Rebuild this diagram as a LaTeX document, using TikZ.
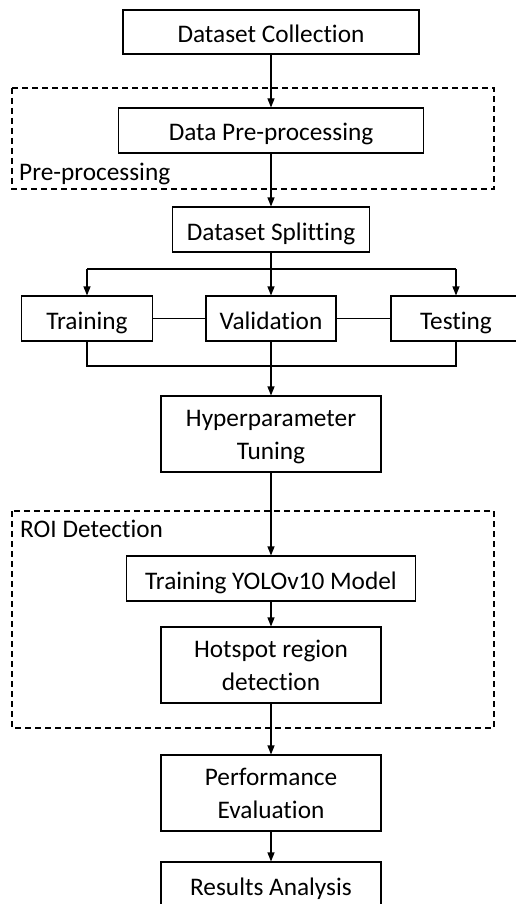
\documentclass[tikz,border=0pt]{standalone}
\usepackage{fontspec}
\setmainfont{Carlito}[Ligatures=NoCommon]
\usetikzlibrary{arrows.meta}
\newcommand{\tst}{\rule[-6pt]{0pt}{30pt}}
\begin{document}
\begin{tikzpicture}[x=1pt,y=-1pt,
  box/.style={draw=black, line width=1.1pt, fill=white, inner sep=0pt, align=center,
    font=\fontsize{25.3}{33}\selectfont},
  one/.style={text height=22pt, text depth=1pt},
  grp/.style={draw=black, line width=1.1pt, dash pattern=on 6pt off 4pt},
  grplabel/.style={inner sep=0pt, anchor=west, text height=17pt, text depth=6pt, font=\fontsize{25.3}{30}\selectfont},
  arr/.style={draw=black, line width=1.1pt, -{Triangle[length=9pt,width=7pt]}},
  ln/.style={draw=black, line width=1.1pt}]
\useasboundingbox (0,0) rectangle (515,904);
% groups
\draw[grp] (12,88) rectangle (494,189);
\node[grplabel] (lpre) at (19,174.5) {Pre-processing};
\draw[grp] (12,511) rectangle (494,728);
\node[grplabel] (lroi) at (20,532) {ROI Detection};
% boxes
\node[box, one, minimum width=296pt, minimum height=44pt] (dc) at (271,32) {Dataset Collection};
\node[box, one, minimum width=305pt, minimum height=45pt] (dp) at (271,130.5) {Data Pre-processing};
\node[box, one, minimum width=197pt, minimum height=45pt] (ds) at (271,229.5) {Dataset Splitting};
\node[box, one, minimum width=131pt, minimum height=45pt] (tr) at (87,318.5) {Training};
\node[box, one, minimum width=130pt, minimum height=45pt] (va) at (271,318.5) {Validation};
\node[box, one, minimum width=130pt, minimum height=45pt] (te) at (456,318.5) {Testing};
\node[box, minimum width=220pt, minimum height=76pt] (hp) at (271,434) {\tst Hyperparameter\\\tst Tuning};
\node[box, one, minimum width=289pt, minimum height=45pt] (yo) at (271,578.5) {Training YOLOv10 Model};
\node[box, minimum width=220pt, minimum height=76pt] (hs) at (271,665) {\tst Hotspot region\\\tst detection};
\node[box, minimum width=220pt, minimum height=76pt] (pe) at (271,793) {\tst Performance\\\tst Evaluation};
\node[box, one, minimum width=220pt, minimum height=45pt] (ra) at (271,884.5) {Results Analysis};
% branch points
\coordinate (bl) at (87,269);
\coordinate (br) at (456,269);
\coordinate (ml) at (87,366);
\coordinate (mr) at (456,366);
% connectors
\draw[arr] (dc.south) -- (dp.north);
\draw[arr] (dp.south) -- (ds.north);
\draw[arr] (ds.south) -- (va.north);
\draw[ln] (bl) -- (br);
\draw[arr] (bl) -- (tr.north);
\draw[arr] (br) -- (te.north);
\draw[ln] (tr.east) -- (va.west);
\draw[ln] (va.east) -- (te.west);
\draw[ln] (tr.south) -- (ml) -- (mr) -- (te.south);
\draw[arr] (va.south) -- (hp.north);
\draw[arr] (hp.south) -- (yo.north);
\draw[arr] (yo.south) -- (hs.north);
\draw[arr] (hs.south) -- (pe.north);
\draw[arr] (pe.south) -- (ra.north);
\end{tikzpicture}
\end{document}
